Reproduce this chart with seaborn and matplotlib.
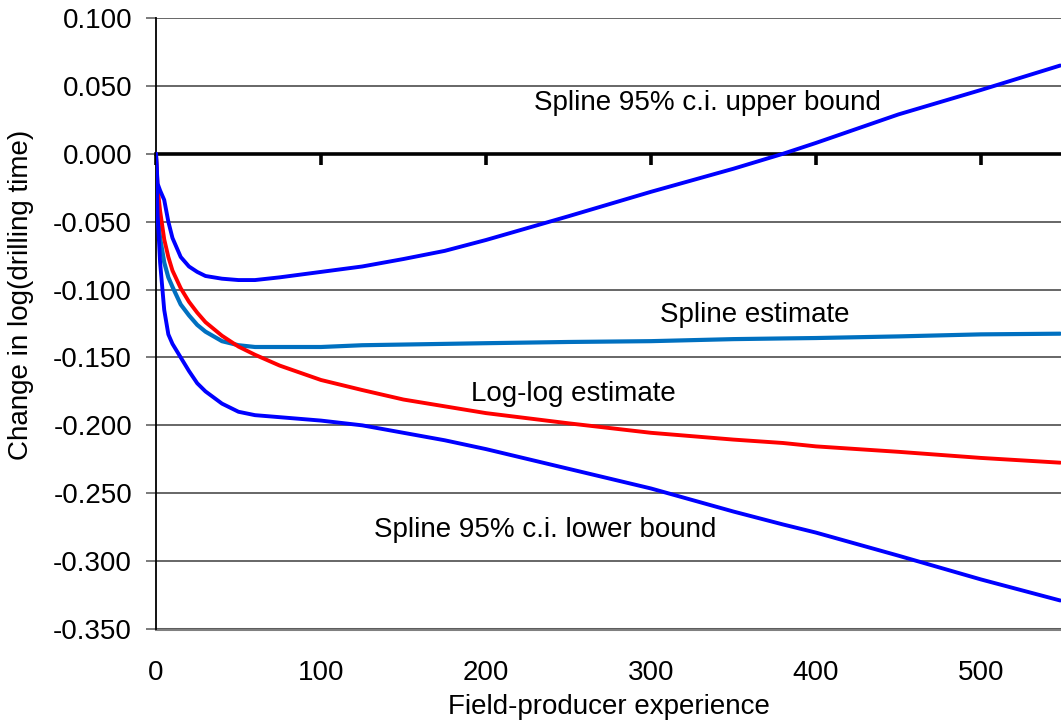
import matplotlib
matplotlib.use("Agg")
import matplotlib.pyplot as plt
import seaborn as sns
import pandas as pd
from matplotlib.ticker import FormatStrFormatter, MultipleLocator

# ---- data ----
experience = [0, 1, 2.5, 5, 7.5, 10, 15, 20, 25, 30, 40, 50, 60, 75, 100, 125,
              150, 175, 200, 250, 300, 350, 380, 400, 450, 500, 548]
upper_bound = [0.0, -0.022, -0.027, -0.034, -0.050, -0.062, -0.076, -0.083, -0.087,
               -0.090, -0.092, -0.093, -0.093, -0.091, -0.087, -0.083, -0.0775,
               -0.0715, -0.0635, -0.046, -0.028, -0.011, 0.0, 0.008, 0.029, 0.047, 0.065]
spline_est = [0.0, -0.045, -0.062, -0.080, -0.091, -0.098, -0.111, -0.119, -0.126,
              -0.131, -0.138, -0.141, -0.1423, -0.1423, -0.1423, -0.141, -0.1405,
              -0.1400, -0.1395, -0.1386, -0.138, -0.1365, -0.136, -0.1357, -0.1345,
              -0.133, -0.1325]
loglog_est = [0.0, -0.025, -0.042, -0.063, -0.076, -0.086, -0.099, -0.109, -0.117,
              -0.124, -0.134, -0.142, -0.148, -0.156, -0.1666, -0.174, -0.181, -0.186,
              -0.191, -0.1985, -0.2055, -0.2105, -0.213, -0.2155, -0.2195, -0.224, -0.2275]
lower_bound = [0.0, -0.045, -0.080, -0.115, -0.133, -0.140, -0.150, -0.160, -0.169,
               -0.175, -0.184, -0.190, -0.1925, -0.194, -0.1965, -0.200, -0.2055,
               -0.211, -0.2175, -0.232, -0.2465, -0.2635, -0.273, -0.279, -0.296,
               -0.3135, -0.329]

series_names = ["Spline 95% c.i. upper bound", "Spline estimate",
                "Log-log estimate", "Spline 95% c.i. lower bound"]
x_ticks = [0, 100, 200, 300, 400, 500]
x_label = "Field-producer experience"
y_label = "Change in log(drilling time)"

# ---- style ----
sns.set_theme(style="white")
plt.rcParams["font.family"] = ["Liberation Sans", "DejaVu Sans"]
plt.rcParams["axes.unicode_minus"] = False
FS = 20

fig = plt.figure(figsize=(10.61, 7.26), dpi=100)
ax = fig.add_axes([0.147, 0.1336, 0.853, 0.8416])

df = pd.DataFrame({
    "x": experience * 4,
    "y": upper_bound + spline_est + loglog_est + lower_bound,
    "series": sum([[n] * len(experience) for n in series_names], []),
})
colors = {series_names[0]: "#0000FF", series_names[1]: "#0070C0",
          series_names[2]: "#FF0000", series_names[3]: "#0000FF"}
widths = {series_names[0]: 2.8, series_names[1]: 3.0,
          series_names[2]: 2.8, series_names[3]: 2.8}
for name in [series_names[1], series_names[2], series_names[0], series_names[3]]:
    sub = df[df["series"] == name]
    sns.lineplot(data=sub, x="x", y="y", color=colors[name], lw=widths[name],
                 estimator=None, sort=False, ax=ax, legend=False, zorder=3)

ax.set_xlim(0, 548.5)
ax.set_ylim(-0.35, 0.10)
ax.yaxis.set_major_locator(MultipleLocator(0.05))
ax.yaxis.set_major_formatter(FormatStrFormatter("%.3f"))
ax.grid(axis="y", color="#5a5a5a", lw=1.3, zorder=0)
ax.grid(axis="x", visible=False)

for s in ["top", "right"]:
    ax.spines[s].set_visible(False)
ax.spines["left"].set_color("black")
ax.spines["left"].set_linewidth(1.3)
ax.spines["bottom"].set_position(("data", 0))
ax.spines["bottom"].set_color("black")
ax.spines["bottom"].set_linewidth(2.6)
ax.spines["bottom"].set_zorder(2)
ax.set_xticks(x_ticks)
ax.tick_params(axis="x", direction="out", length=8, width=2.6, color="black",
               labelbottom=False, bottom=True)
ax.tick_params(axis="y", direction="out", length=7.2, width=1.3, color="#707070",
               left=True, labelsize=FS, pad=10, labelcolor="black")
ax.set_xlabel("")
ax.set_ylabel(y_label, fontsize=FS, color="black")
ax.yaxis.set_label_coords(-0.135, 0.547)

sec = ax.secondary_xaxis("bottom")
sec.set_xticks(x_ticks)
sec.spines["bottom"].set_color("#808080")
sec.spines["bottom"].set_linewidth(2.2)
sec.tick_params(axis="x", length=0, labelsize=FS, pad=22, labelcolor="black")
sec.set_xlabel(x_label, fontsize=FS, color="black", labelpad=6)

label_pos = {series_names[0]: (334, 0.0374), series_names[1]: (363, -0.1187),
             series_names[2]: (253, -0.177), series_names[3]: (236, -0.277)}
for name, (lx, ly) in label_pos.items():
    ax.text(lx, ly, name, fontsize=FS, ha="center", va="center", color="black",
            zorder=4)

fig.savefig("out.png", dpi=100)
